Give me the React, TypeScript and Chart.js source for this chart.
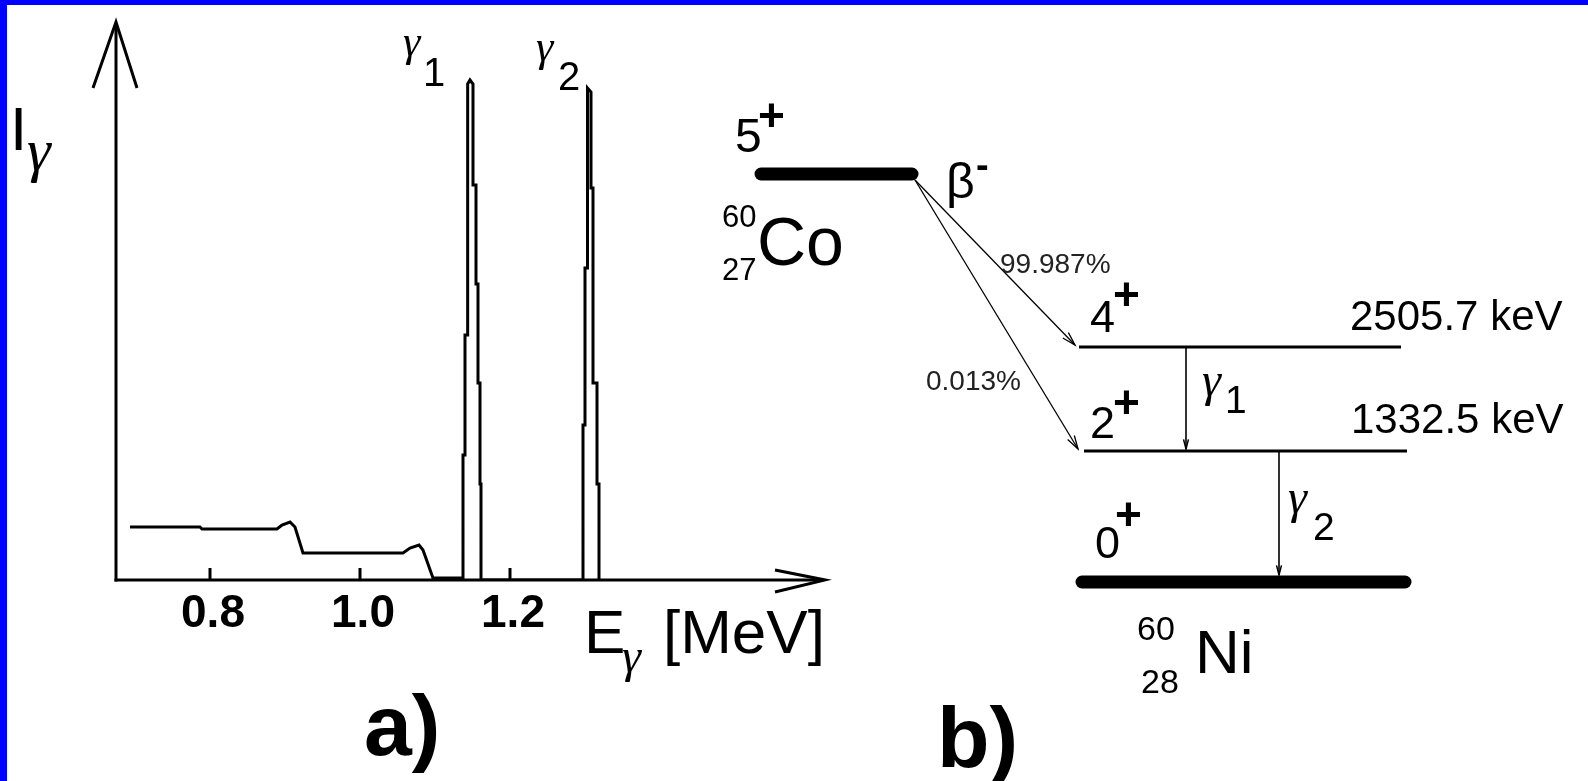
import React, { useEffect, useRef } from "react";
import { Chart, registerables } from "chart.js";
Chart.register(...registerables);

const SANS = '"Liberation Sans", Arial, sans-serif';
const SERIF = '"Liberation Serif", "Times New Roman", serif';

// ---------- a) gamma spectrum of 60Co (E in MeV, intensity in arbitrary units) ----------
const continuumE = [0.6933, 0.7867, 0.7893, 0.8893, 0.896, 0.9067, 0.9133, 0.924, 1.0573, 1.0667, 1.0787, 1.084, 1.0973, 1.1373];
const continuumI = [10.6, 10.6, 10.2, 10.2, 11.0, 11.6, 10.6, 5.4, 5.4, 6.4, 7.0, 6.0, 0.4, 0.4];
const peak1E = [1.13733, 1.13733, 1.14, 1.14, 1.14267, 1.14267, 1.144, 1.144, 1.14667, 1.15067, 1.15067, 1.15467, 1.15467, 1.15733, 1.15733, 1.16, 1.16, 1.16133, 1.16133];
const peak1I = [0.4, 25, 25, 49, 49, 74, 74, 99.2, 100, 99.2, 79, 79, 59.2, 59.2, 39.4, 39.4, 19.2, 19.2, 0];
const peak2E = [1.29733, 1.29733, 1.3, 1.3, 1.30267, 1.30267, 1.304, 1.308, 1.308, 1.31067, 1.31067, 1.316, 1.316, 1.31867, 1.31867];
const peak2I = [0, 31, 31, 62.4, 62.4, 97.6, 98.4, 97.6, 78.4, 78.4, 39.4, 39.4, 19.2, 19.2, 0];

const tickValues = [0.8, 1.0, 1.2];
const tickLabels = ["0.8", "1.0", "1.2"];
const X_MIN = 0.674667;
const X_MAX = 1.62;
const Y_MAX = 112;
const Y_ARROW = 111.6;

// ---------- b) decay scheme (schematic diagram units) ----------
const levelSpins = ["5", "4", "2", "0"];
const levelX0 = [761, 1079, 1084, 1082];
const levelX1 = [912, 1401, 1407, 1405];
const levelY = [174, 347, 451, 582];
const levelWidth = [13, 3, 3, 13];
const levelEnergyText = ["", "2505.7 keV", "1332.5 keV", ""];
const betaBranches = ["99.987%", "0.013%"];
const betaTargets = [1, 2];
const gammaFrom = [1, 2];
const gammaTo = [2, 3];
const gammaX = [1186, 1279];

function combineSpectrum() {
  const pts: { x: number; y: number }[] = [];
  continuumE.forEach((e, i) => pts.push({ x: e, y: continuumI[i] }));
  peak1E.forEach((e, i) => pts.push({ x: e, y: peak1I[i] }));
  peak2E.forEach((e, i) => pts.push({ x: e, y: peak2I[i] }));
  return pts;
}

function line(ctx: CanvasRenderingContext2D, pts: number[][], w: number) {
  ctx.beginPath();
  ctx.moveTo(pts[0][0], pts[0][1]);
  for (let i = 1; i < pts.length; i++) ctx.lineTo(pts[i][0], pts[i][1]);
  ctx.lineWidth = w;
  ctx.strokeStyle = "#000";
  ctx.stroke();
}

function txt(ctx: CanvasRenderingContext2D, s: string, x: number, y: number, font: string, align: CanvasTextAlign = "left", color = "#000") {
  ctx.font = font;
  ctx.textAlign = align;
  ctx.textBaseline = "alphabetic";
  ctx.fillStyle = color;
  ctx.fillText(s, x, y);
}

const spectrumAxes = {
  id: "spectrumAxes",
  afterDatasetsDraw(chart: any) {
    const ctx: CanvasRenderingContext2D = chart.ctx;
    const xs = chart.scales.x;
    const ys = chart.scales.y;
    const x0 = xs.getPixelForValue(X_MIN);
    const y0 = ys.getPixelForValue(0);
    const yTop = ys.getPixelForValue(Y_ARROW);
    const xEnd = xs.getPixelForValue(X_MAX);
    ctx.save();
    ctx.lineCap = "butt";
    ctx.lineJoin = "miter";
    line(ctx, [[x0, y0 + 1.5], [x0, yTop + 4]], 3);
    line(ctx, [[x0 - 23, yTop + 66], [x0, yTop], [x0 + 21, yTop + 66]], 3);
    line(ctx, [[x0 - 1.5, y0], [xEnd - 2, y0]], 3);
    line(ctx, [[xEnd - 50, y0 - 10], [xEnd, y0], [xEnd - 50, y0 + 12]], 3);
    tickValues.forEach((v, i) => {
      const px = xs.getPixelForValue(v);
      line(ctx, [[px, y0], [px, y0 - 12]], 3);
      txt(ctx, tickLabels[i], px + 3, y0 + 47, `bold 46px ${SANS}`, "center");
    });
    txt(ctx, "I", 10, 150, `62px ${SANS}`);
    txt(ctx, "γ", 27, 170, `italic 60px ${SERIF}`);
    txt(ctx, "E", 584, 653, `62px ${SANS}`);
    txt(ctx, "γ", 622, 672, `italic 48px ${SERIF}`);
    txt(ctx, "[MeV]", 663, 653, `62px ${SANS}`);
    txt(ctx, "γ", 403, 56, `italic 44px ${SERIF}`);
    txt(ctx, "1", 423, 86, `40px ${SANS}`);
    txt(ctx, "γ", 536, 61, `italic 44px ${SERIF}`);
    txt(ctx, "2", 558, 90, `40px ${SANS}`);
    txt(ctx, "a)", 364, 755, `bold 86px ${SANS}`);
    ctx.restore();
  },
};

function arrowHead(ctx: CanvasRenderingContext2D, fx: number, fy: number, tx: number, ty: number, len: number, half: number, w: number) {
  const a = Math.atan2(ty - fy, tx - fx);
  const p1 = [tx - len * Math.cos(a - half), ty - len * Math.sin(a - half)];
  const p2 = [tx - len * Math.cos(a + half), ty - len * Math.sin(a + half)];
  line(ctx, [p1, [tx, ty], p2], w);
}

const schemeDecor = {
  id: "schemeDecor",
  afterDatasetsDraw(chart: any) {
    const ctx: CanvasRenderingContext2D = chart.ctx;
    const xs = chart.scales.x;
    const ys = chart.scales.y;
    const X = (v: number) => xs.getPixelForValue(v);
    const Y = (v: number) => ys.getPixelForValue(v);
    ctx.save();
    betaTargets.forEach((t) => {
      const tx = X(levelX0[t] - 4 + (t === 1 ? 0 : -2));
      const ty = Y(levelY[t] - 2);
      arrowHead(ctx, X(915), Y(180), tx, ty, 14, 0.28, 1.3);
    });
    gammaFrom.forEach((f, i) => {
      const gx = X(gammaX[i]);
      const gy = Y(levelY[gammaTo[i]] - (i === 1 ? 7 : 2));
      arrowHead(ctx, gx, gy - 20, gx, gy, 10, 0.25, 1.5);
    });
    const plus = `bold 46px ${SANS}`;
    txt(ctx, levelSpins[0], 735, 152, `48px ${SANS}`);
    txt(ctx, "+", 758, 131, plus);
    txt(ctx, "β", 946, 198, `50px ${SANS}`);
    txt(ctx, "-", 976, 178, `bold 38px ${SANS}`);
    txt(ctx, "60", 722, 227, `31px ${SANS}`);
    txt(ctx, "27", 722, 280, `31px ${SANS}`);
    txt(ctx, "Co", 757, 265, `68px ${SANS}`);
    txt(ctx, betaBranches[0], 1000, 273, `28px ${SANS}`, "left", "#222");
    txt(ctx, betaBranches[1], 926, 390, `28px ${SANS}`, "left", "#222");
    txt(ctx, levelSpins[1], 1090, 332, `45px ${SANS}`);
    txt(ctx, "+", 1113, 310, plus);
    txt(ctx, levelEnergyText[1], 1350, 330, `42px ${SANS}`);
    txt(ctx, levelSpins[2], 1090, 438, `45px ${SANS}`);
    txt(ctx, "+", 1113, 418, plus);
    txt(ctx, levelEnergyText[2], 1351, 433, `42px ${SANS}`);
    txt(ctx, "γ", 1202, 396, `italic 48px ${SERIF}`);
    txt(ctx, "1", 1225, 413, `39px ${SANS}`);
    txt(ctx, "γ", 1288, 513, `italic 48px ${SERIF}`);
    txt(ctx, "2", 1313, 540, `39px ${SANS}`);
    txt(ctx, levelSpins[3], 1095, 558, `45px ${SANS}`);
    txt(ctx, "+", 1115, 530, plus);
    txt(ctx, "60", 1137, 640, `34px ${SANS}`);
    txt(ctx, "Ni", 1195, 673, `62px ${SANS}`);
    txt(ctx, "28", 1141, 693, `34px ${SANS}`);
    txt(ctx, "b)", 937, 767, `bold 86px ${SANS}`);
    ctx.restore();
  },
};

export default function App() {
  const refA = useRef<HTMLCanvasElement>(null);
  const refB = useRef<HTMLCanvasElement>(null);

  useEffect(() => {
    const chartA = new Chart(refA.current as HTMLCanvasElement, {
      type: "line",
      data: {
        datasets: [
          {
            data: combineSpectrum(),
            borderColor: "#000",
            borderWidth: 3,
            pointRadius: 0,
            tension: 0,
            fill: false,
            borderJoinStyle: "miter",
          },
        ],
      },
      options: {
        responsive: false,
        animation: false,
        devicePixelRatio: 1,
        layout: { padding: { left: 116, right: 1588 - 825, top: 20, bottom: 781 - 580 } },
        plugins: { legend: { display: false }, tooltip: { enabled: false } },
        events: [],
        scales: {
          x: { type: "linear", min: X_MIN, max: X_MAX, display: false },
          y: { type: "linear", min: 0, max: Y_MAX, display: false },
        },
      },
      plugins: [spectrumAxes],
    });

    const levelSets = levelSpins.map((_, i) => ({
      data: [
        { x: levelX0[i], y: levelY[i] },
        { x: levelX1[i], y: levelY[i] },
      ],
      borderColor: "#000",
      borderWidth: levelWidth[i],
      borderCapStyle: levelWidth[i] > 5 ? "round" : "butt",
      pointRadius: 0,
      tension: 0,
      fill: false,
    }));
    const betaSets = betaTargets.map((t) => ({
      data: [
        { x: 915, y: 180 },
        { x: levelX0[t] - 4 + (t === 1 ? 0 : -2), y: levelY[t] - 2 },
      ],
      borderColor: "#000",
      borderWidth: 1.3,
      pointRadius: 0,
      fill: false,
    }));
    const gammaSets = gammaFrom.map((f, i) => ({
      data: [
        { x: gammaX[i], y: levelY[f] },
        { x: gammaX[i], y: levelY[gammaTo[i]] - (i === 1 ? 7 : 2) },
      ],
      borderColor: "#000",
      borderWidth: 1.6,
      pointRadius: 0,
      fill: false,
    }));

    const chartB = new Chart(refB.current as HTMLCanvasElement, {
      type: "line",
      data: { datasets: [...levelSets, ...betaSets, ...gammaSets] as any },
      options: {
        responsive: false,
        animation: false,
        devicePixelRatio: 1,
        layout: { padding: 0 },
        plugins: { legend: { display: false }, tooltip: { enabled: false } },
        events: [],
        scales: {
          x: { type: "linear", min: 0, max: 1588, display: false },
          y: { type: "linear", min: 0, max: 781, reverse: true, display: false },
        },
      },
      plugins: [schemeDecor],
    });

    return () => {
      chartA.destroy();
      chartB.destroy();
    };
  }, []);

  return (
    <div style={{ position: "fixed", left: 0, top: 0, width: 1588, height: 781, background: "#0000ff", overflow: "hidden" }}>
      <div style={{ position: "absolute", left: 7, top: 5, right: 0, bottom: 0, background: "#fff" }} />
      <canvas ref={refA} width={1588} height={781} style={{ position: "absolute", left: 0, top: 0 }} />
      <canvas ref={refB} width={1588} height={781} style={{ position: "absolute", left: 0, top: 0 }} />
    </div>
  );
}
